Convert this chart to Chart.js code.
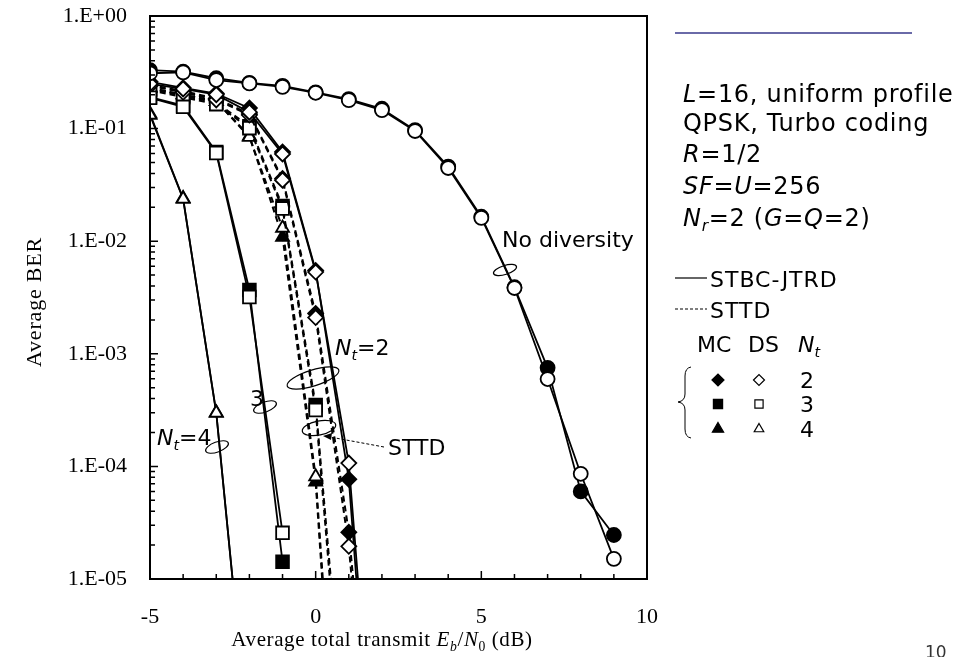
<!DOCTYPE html>
<html>
<head>
<meta charset="utf-8">
<script src="https://cdn.jsdelivr.net/npm/chart.js@4.4.1/dist/chart.umd.min.js"></script>
<style>
  html, body { margin: 0; padding: 0; background: #fff; }
  #wrap { width: 977px; height: 657px; }
</style>
</head>
<body>
<div id="wrap"><canvas id="berChart" width="977" height="657"></canvas></div>
<script>
// Eb/N0 grids (dB)
const snrNoDiv = [-5, -4, -3, -2, -1, 0, 1, 2, 3, 4, 5, 6, 7, 8, 9];
const snrJtrd2 = [-5, -4, -3, -2, -1, 0, 1, 2];
const snrJtrd3 = [-5, -4, -3, -2, -1];
const snrJtrd4 = [-5, -4, -3, -2];
const snrSttd2 = [-5, -4, -3, -2, -1, 0, 1, 2];
const snrSttd3 = [-5, -4, -3, -2, -1, 0, 1];
const snrSttd4 = [-5, -4, -3, -2, -1, 0, 1];

// BER values, DS = DS-CDMA (open), MC = MC-CDMA (filled)
const noDivDS = [0.31, 0.316, 0.27, 0.252, 0.235, 0.208, 0.179, 0.146, 0.0952, 0.0447, 0.0161, 0.00384, 5.97e-4, 8.6e-5, 1.51e-5];
const noDivMC = [0.33, 0.32, 0.28, 0.255, 0.24, 0.21, 0.183, 0.15, 0.097, 0.046, 0.0165, 0.0039, 7.5e-4, 6.0e-5, 2.46e-5];
const jtrd2DS = [0.25, 0.225, 0.2, 0.14, 0.0595, 0.00532, 1.07e-4, 2e-8];
const jtrd2MC = [0.26, 0.23, 0.205, 0.152, 0.062, 0.0055, 7.7e-5, 1e-8];
const jtrd3DS = [0.188, 0.156, 0.0607, 0.00319, 2.57e-5];
const jtrd3MC = [0.19, 0.16, 0.062, 0.00369, 1.42e-5];
const jtrd4DS = [0.132, 0.0237, 2.98e-4, 3e-7];
const jtrd4MC = [0.135, 0.024, 3.0e-4, 3e-7];
const sttd2DS = [0.24, 0.21, 0.18, 0.132, 0.0348, 0.0021, 1.95e-5, 1e-8];
const sttd2MC = [0.245, 0.215, 0.185, 0.135, 0.036, 0.00228, 2.6e-5, 2e-8];
const sttd3DS = [0.22, 0.19, 0.165, 0.101, 0.0195, 3.17e-4, 1e-7];
const sttd3MC = [0.225, 0.195, 0.17, 0.105, 0.0205, 3.5e-4, 1.5e-7];
const sttd4DS = [0.23, 0.2, 0.175, 0.084, 0.0131, 8.1e-5, 5e-9];
const sttd4MC = [0.23, 0.2, 0.175, 0.086, 0.0109, 7.3e-5, 3e-9];

const yTickValues = [1, 1e-1, 1e-2, 1e-3, 1e-4, 1e-5];
const xTickValues = [-5, 0, 5, 10];

const SERIF = "'Liberation Serif', 'Times New Roman', serif";
const SANS = "'DejaVu Sans', Verdana, sans-serif";

function pts(xs, ys) {
    return xs.map((x, i) => ({ x: x, y: ys[i] }));
}

function series(label, xs, ys, style, radius, dashed, filled) {
    return {
        label: label,
        data: pts(xs, ys),
        borderColor: '#000',
        borderWidth: dashed ? 2 : 1.8,
        borderDash: dashed ? [6, 4] : [],
        pointStyle: style,
        pointRadius: radius,
        pointBackgroundColor: filled ? '#000' : '#fff',
        pointBorderColor: '#000',
        pointBorderWidth: 1.8,
        fill: false,
        tension: 0
    };
}

// open (DS) markers first so they sit on top
const datasets = [
    series('No diversity DS', snrNoDiv, noDivDS, 'circle', 7, false, false),
    series('JTRD Nt=2 DS', snrJtrd2, jtrd2DS, 'rectRot', 7.5, false, false),
    series('JTRD Nt=3 DS', snrJtrd3, jtrd3DS, 'rect', 9, false, false),
    series('JTRD Nt=4 DS', snrJtrd4, jtrd4DS, 'triangle', 7.5, false, false),
    series('STTD Nt=2 DS', snrSttd2, sttd2DS, 'rectRot', 7.5, true, false),
    series('STTD Nt=3 DS', snrSttd3, sttd3DS, 'rect', 9, true, false),
    series('STTD Nt=4 DS', snrSttd4, sttd4DS, 'triangle', 7.5, true, false),
    series('No diversity MC', snrNoDiv, noDivMC, 'circle', 7, false, true),
    series('JTRD Nt=2 MC', snrJtrd2, jtrd2MC, 'rectRot', 7.5, false, true),
    series('JTRD Nt=3 MC', snrJtrd3, jtrd3MC, 'rect', 9, false, true),
    series('JTRD Nt=4 MC', snrJtrd4, jtrd4MC, 'triangle', 7.5, false, true),
    series('STTD Nt=2 MC', snrSttd2, sttd2MC, 'rectRot', 7.5, true, true),
    series('STTD Nt=3 MC', snrSttd3, sttd3MC, 'rect', 9, true, true),
    series('STTD Nt=4 MC', snrSttd4, sttd4MC, 'triangle', 7.5, true, true)
];

// text with italic / subscript parts, drawn on a baseline
function drawRich(ctx, parts, x, y, size, family, align, spacing) {
    const fontOf = (p) => {
        const s = p.sub ? size * 0.65 : size;
        return (p.i ? 'italic ' : '') + s + 'px ' + family;
    };
    ctx.letterSpacing = (spacing || 0) + 'px';
    let total = 0;
    parts.forEach(p => { ctx.font = fontOf(p); total += ctx.measureText(p.t).width; });
    let cx = align === 'center' ? x - total / 2 : x;
    ctx.textAlign = 'left';
    ctx.textBaseline = 'alphabetic';
    parts.forEach(p => {
        ctx.font = fontOf(p);
        ctx.fillText(p.t, cx, p.sub ? y + size * 0.22 : y);
        cx += ctx.measureText(p.t).width;
    });
    ctx.letterSpacing = '0px';
}

function ellipse(ctx, cx, cy, rx, ry, rot) {
    ctx.beginPath();
    ctx.ellipse(cx, cy, rx, ry, rot, 0, Math.PI * 2);
    ctx.stroke();
}

const decorPlugin = {
    id: 'decor',
    afterDraw(chart) {
        const ctx = chart.ctx;
        const a = chart.chartArea;
        const xs = chart.scales.x;
        const ys = chart.scales.y;
        ctx.save();
        ctx.strokeStyle = '#000';
        ctx.fillStyle = '#000';

        // frame
        ctx.lineWidth = 2;
        ctx.strokeRect(a.left, a.top, a.right - a.left, a.bottom - a.top);

        // inward ticks
        ctx.lineWidth = 1.5;
        ctx.beginPath();
        for (let v = xs.min; v <= xs.max; v++) {
            const px = xs.getPixelForValue(v);
            const len = v % 5 === 0 ? 8 : 5;
            ctx.moveTo(px, a.bottom);
            ctx.lineTo(px, a.bottom - len);
        }
        for (let e = -5; e < 0; e++) {
            for (let k = 1; k < 10; k++) {
                const py = ys.getPixelForValue(k * Math.pow(10, e));
                const len = k === 1 ? 8 : 5;
                ctx.moveTo(a.left, py);
                ctx.lineTo(a.left + len, py);
            }
        }
        ctx.stroke();

        // axis titles
        drawRich(ctx, [
            { t: 'Average total transmit ' },
            { t: 'E', i: true }, { t: 'b', i: true, sub: true },
            { t: '/' },
            { t: 'N', i: true }, { t: '0', sub: true },
            { t: ' (dB)' }
        ], 382, 646, 21, SERIF, 'center', 0.6);

        ctx.save();
        ctx.translate(35, 302);
        ctx.rotate(-Math.PI / 2);
        ctx.font = '22px ' + SERIF;
        ctx.letterSpacing = '0.8px';
        ctx.textAlign = 'center';
        ctx.textBaseline = 'middle';
        ctx.fillText('Average BER', 0, 0);
        ctx.restore();

        // curve annotations
        ctx.lineWidth = 1.2;
        ellipse(ctx, 505, 270, 12, 4.5, -0.3);
        ellipse(ctx, 313, 378, 27, 8, -0.3);
        ellipse(ctx, 265, 407, 12, 5, -0.35);
        ellipse(ctx, 217, 447, 12, 5, -0.35);
        ellipse(ctx, 319, 428, 17, 7, -0.2);

        drawRich(ctx, [{ t: 'No diversity' }], 502, 247, 22, SANS, 'left');
        drawRich(ctx, [{ t: 'N', i: true }, { t: 't', i: true, sub: true }, { t: '=2' }], 335, 355, 22, SANS, 'left');
        drawRich(ctx, [{ t: '3' }], 250, 406, 22, SANS, 'left');
        drawRich(ctx, [{ t: 'N', i: true }, { t: 't', i: true, sub: true }, { t: '=4' }], 157, 445, 22, SANS, 'left');
        drawRich(ctx, [{ t: 'STTD' }], 388, 455, 22, SANS, 'left');

        // STTD pointer
        ctx.lineWidth = 1;
        ctx.setLineDash([3, 2]);
        ctx.beginPath();
        ctx.moveTo(384, 447);
        ctx.lineTo(330, 437);
        ctx.stroke();
        ctx.setLineDash([]);
        ctx.beginPath();
        ctx.moveTo(323, 436);
        ctx.lineTo(332, 433);
        ctx.lineTo(331, 440);
        ctx.closePath();
        ctx.fill();

        // parameter block
        const px = 683;
        drawRich(ctx, [{ t: 'L', i: true }, { t: '=16, uniform profile' }], px, 102, 24, SANS, 'left', 0.7);
        drawRich(ctx, [{ t: 'QPSK, Turbo coding' }], px, 131, 24, SANS, 'left', 0.7);
        drawRich(ctx, [{ t: 'R', i: true }, { t: '=1/2' }], px, 162, 24, SANS, 'left', 0.7);
        drawRich(ctx, [{ t: 'SF', i: true }, { t: '=' }, { t: 'U', i: true }, { t: '=256' }], px, 194, 24, SANS, 'left', 0.7);
        drawRich(ctx, [{ t: 'N', i: true }, { t: 'r', i: true, sub: true }, { t: '=2 (' },
            { t: 'G', i: true }, { t: '=' }, { t: 'Q', i: true }, { t: '=2)' }], px, 226, 24, SANS, 'left', 0.7);

        // line style legend
        ctx.lineWidth = 1.2;
        ctx.beginPath();
        ctx.moveTo(675, 278);
        ctx.lineTo(707, 278);
        ctx.stroke();
        ctx.setLineDash([3, 2]);
        ctx.beginPath();
        ctx.moveTo(675, 309);
        ctx.lineTo(707, 309);
        ctx.stroke();
        ctx.setLineDash([]);
        drawRich(ctx, [{ t: 'STBC-JTRD' }], 710, 287, 22, SANS, 'left', 1);
        drawRich(ctx, [{ t: 'STTD' }], 710, 318, 22, SANS, 'left', 1);

        drawRich(ctx, [{ t: 'MC' }], 697, 352, 22, SANS, 'left');
        drawRich(ctx, [{ t: 'DS' }], 748, 352, 22, SANS, 'left');
        drawRich(ctx, [{ t: 'N', i: true }, { t: 't', i: true, sub: true }], 798, 352, 22, SANS, 'left');

        const rows = [
            { style: 'rectRot', rf: 6, ro: 5.5, y: 380, n: '2' },
            { style: 'rect', rf: 6.5, ro: 5.8, y: 404, n: '3' },
            { style: 'triangle', rf: 6.5, ro: 5.5, y: 429, n: '4' }
        ];
        rows.forEach(r => {
            ctx.fillStyle = '#000';
            Chart.helpers.drawPoint(ctx, { pointStyle: r.style, radius: r.rf, borderWidth: 1 }, 718, r.y);
            ctx.fillStyle = '#fff';
            Chart.helpers.drawPoint(ctx, { pointStyle: r.style, radius: r.ro, borderWidth: 1 }, 759, r.y);
            ctx.fillStyle = '#000';
            drawRich(ctx, [{ t: r.n }], 800, r.y + 8, 22, SANS, 'left');
        });

        // brace
        ctx.lineWidth = 1;
        ctx.beginPath();
        ctx.moveTo(691, 367);
        ctx.quadraticCurveTo(685, 368, 685, 376);
        ctx.lineTo(685, 394);
        ctx.quadraticCurveTo(685, 401, 678, 402);
        ctx.quadraticCurveTo(685, 403, 685, 410);
        ctx.lineTo(685, 429);
        ctx.quadraticCurveTo(685, 437, 691, 438);
        ctx.stroke();

        // slide decoration
        ctx.strokeStyle = '#6a6aa8';
        ctx.lineWidth = 2;
        ctx.beginPath();
        ctx.moveTo(675, 33);
        ctx.lineTo(912, 33);
        ctx.stroke();
        ctx.fillStyle = '#333';
        ctx.font = '17px ' + SANS;
        ctx.textAlign = 'left';
        ctx.textBaseline = 'top';
        ctx.fillText('10', 925, 645);

        ctx.restore();
    }
};

new Chart(document.getElementById('berChart').getContext('2d'), {
    type: 'line',
    data: { datasets: datasets },
    options: {
        responsive: false,
        animation: false,
        events: [],
        layout: { padding: { left: 0, right: 330, top: 16, bottom: 0 } },
        plugins: {
            legend: { display: false },
            tooltip: { enabled: false }
        },
        scales: {
            x: {
                type: 'linear',
                min: -5,
                max: 10,
                grid: { display: false, drawTicks: false },
                border: { display: false },
                afterBuildTicks: (scale) => { scale.ticks = xTickValues.map(v => ({ value: v })); },
                afterFit: (scale) => {
                    scale.height = 78;
                    scale.paddingLeft = 0;
                    scale.paddingRight = 0;
                },
                ticks: {
                    padding: 25,
                    maxRotation: 0,
                    color: '#000',
                    font: { family: SERIF, size: 22 },
                    callback: (v) => String(v)
                }
            },
            y: {
                type: 'logarithmic',
                min: 1e-5,
                max: 1,
                grid: { display: false, drawTicks: false },
                border: { display: false },
                afterBuildTicks: (scale) => { scale.ticks = yTickValues.map(v => ({ value: v })); },
                afterFit: (scale) => {
                    scale.width = 150;
                    scale.paddingTop = 0;
                    scale.paddingBottom = 0;
                },
                ticks: {
                    padding: 23,
                    color: '#000',
                    font: { family: SERIF, size: 22 },
                    callback: (v) => {
                        const e = Math.round(Math.log10(v));
                        return '1.E' + (e >= 0 ? '+' : '-') + String(Math.abs(e)).padStart(2, '0');
                    }
                }
            }
        }
    },
    plugins: [decorPlugin]
});
</script>
</body>
</html>
